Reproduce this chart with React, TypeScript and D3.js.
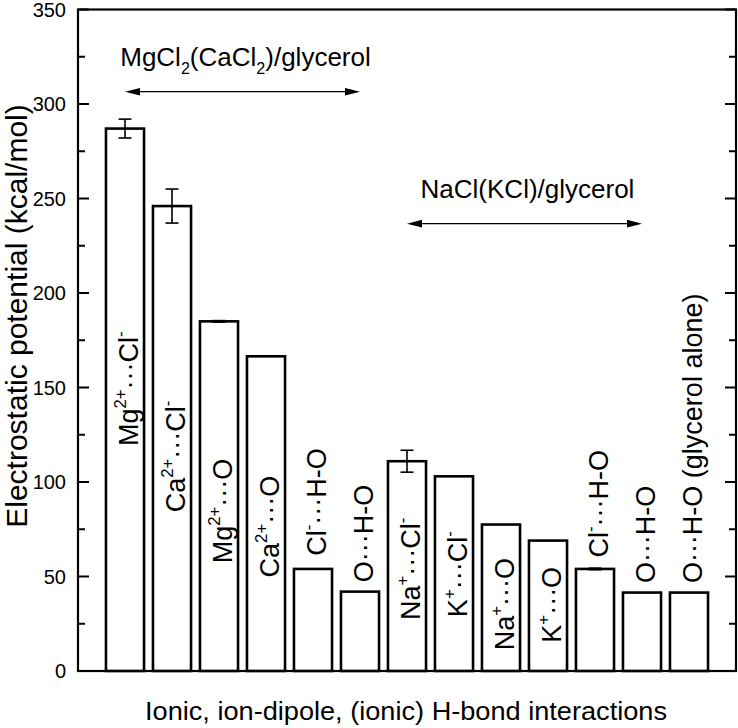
import { useEffect, useRef } from "react";
import * as d3 from "d3";

// bar labels, "^{..}" = superscript
const categories = [
  "Mg^{2+}···Cl^{-}",
  "Ca^{2+}···Cl^{-}",
  "Mg^{2+}···O",
  "Ca^{2+}···O",
  "Cl^{-}···H-O",
  "O···H-O",
  "Na^{+}···Cl^{-}",
  "K^{+}···Cl^{-}",
  "Na^{+}···O",
  "K^{+}···O",
  "Cl^{-}···H-O",
  "O···H-O",
  "O···H-O (glycerol alone)",
];
const potentials = [287, 246, 185, 166.5, 54, 42, 111, 103, 77.5, 69, 54, 41.5, 41.5];
const errors = [5, 9, 0.4, 0, 0, 0, 5.8, 0, 0, 0, 0.4, 0, 0];
// where each rotated label starts (value units)
const labelBase = [119, 84, 57, 49.5, 61, 47, 27, 28.5, 11, 15, 60, 46.5, 46.5];

const yTicks = [0, 50, 100, 150, 200, 250, 300, 350];
const yMinor = [25, 75, 125, 175, 225, 275, 325];

const groupNames = ["MgCl_{2}(CaCl_{2})/glycerol", "NaCl(KCl)/glycerol"];
const groupSpans = [[1, 6], [7, 12]];
const groupLevels = [306.5, 236.7];

const FONT = "'Liberation Sans', Arial, Helvetica, sans-serif";

// append tspans for a string with ^{} / _{} markup
const addRich = (text: any, str: string, fs: number) => {
  const re = /\^\{([^}]*)\}|_\{([^}]*)\}|([^^_]+)/g;
  let shift = 0;
  let m: RegExpExecArray | null;
  while ((m = re.exec(str)) !== null) {
    let target = 0;
    let size = fs;
    let s = m[3];
    if (m[1] !== undefined) { target = -0.42 * fs; size = 0.62 * fs; s = m[1]; }
    if (m[2] !== undefined) { target = 0.3 * fs; size = 0.62 * fs; s = m[2]; }
    text.append("tspan")
      .attr("dy", target - shift)
      .attr("font-size", size)
      .text(s);
    shift = target;
  }
};

const Chart = () => {
  const ref = useRef<SVGSVGElement>(null);

  useEffect(() => {
    const width = 738;
    const height = 728;

    const x = d3.scaleLinear().domain([0, 14]).range([78, 736]);
    const y = d3.scaleLinear().domain([0, 350]).range([671, 9.5]);
    const barW = x(0.81) - x(0);

    const svg = d3.select(ref.current)
      .attr("width", width)
      .attr("height", height)
      .attr("viewBox", [0, 0, width, height] as any)
      .style("font-family", FONT);

    svg.selectAll("*").remove();

    svg.append("rect").attr("width", width).attr("height", height).attr("fill", "white");

    // bars
    svg.append("g")
      .selectAll("rect")
      .data(potentials)
      .join("rect")
      .attr("x", (d, i) => x(i + 1) - barW / 2)
      .attr("y", (d) => y(d))
      .attr("width", barW)
      .attr("height", (d) => y(0) - y(d))
      .attr("fill", "white")
      .attr("stroke", "black")
      .attr("stroke-width", 2.6);

    // error bars
    const eb = svg.append("g").attr("stroke", "black").attr("stroke-width", 1.6);
    potentials.forEach((v, i) => {
      const e = errors[i];
      if (!e) return;
      const cx = x(i + 1);
      eb.append("line").attr("x1", cx).attr("x2", cx).attr("y1", y(v + e)).attr("y2", y(v - e));
      eb.append("line").attr("x1", cx - 6.5).attr("x2", cx + 6.5).attr("y1", y(v + e)).attr("y2", y(v + e));
      eb.append("line").attr("x1", cx - 6.5).attr("x2", cx + 6.5).attr("y1", y(v - e)).attr("y2", y(v - e));
    });

    // frame
    svg.append("rect")
      .attr("x", x(0))
      .attr("y", y(350))
      .attr("width", x(14) - x(0))
      .attr("height", y(0) - y(350))
      .attr("fill", "none")
      .attr("stroke", "black")
      .attr("stroke-width", 2.2);

    // ticks, pointing inward on both sides
    const tk = svg.append("g").attr("stroke", "black").attr("stroke-width", 2);
    yTicks.forEach((t) => {
      tk.append("line").attr("x1", x(0)).attr("x2", x(0) + 11).attr("y1", y(t)).attr("y2", y(t));
      tk.append("line").attr("x1", x(14)).attr("x2", x(14) - 11).attr("y1", y(t)).attr("y2", y(t));
    });
    yMinor.forEach((t) => {
      tk.append("line").attr("x1", x(0)).attr("x2", x(0) + 7).attr("y1", y(t)).attr("y2", y(t));
      tk.append("line").attr("x1", x(14)).attr("x2", x(14) - 7).attr("y1", y(t)).attr("y2", y(t));
    });

    svg.append("g")
      .selectAll("text")
      .data(yTicks)
      .join("text")
      .attr("x", 66)
      .attr("y", (d) => y(d))
      .attr("dy", "0.36em")
      .attr("text-anchor", "end")
      .attr("font-size", 20)
      .text((d) => d);

    // axis titles
    svg.append("text")
      .attr("transform", "translate(27,316) rotate(-90)")
      .attr("text-anchor", "middle")
      .attr("font-size", 30)
      .text("Electrostatic potential (kcal/mol)");

    svg.append("text")
      .attr("x", 406)
      .attr("y", 720)
      .attr("text-anchor", "middle")
      .attr("font-size", 26)
      .attr("textLength", 522)
      .attr("lengthAdjust", "spacingAndGlyphs")
      .text("Ionic, ion-dipole, (ionic) H-bond interactions");

    // rotated bar labels
    categories.forEach((c, i) => {
      const t = svg.append("text")
        .attr("transform", `translate(${x(i + 1) + 12.5},${y(labelBase[i])}) rotate(-90)`)
        .attr("font-size", 27);
      addRich(t, c, 27);
    });

    // group annotations with double arrows
    groupNames.forEach((g, k) => {
      const [a, b] = groupSpans[k];
      const x1 = x(a);
      const x2 = x(b);
      const yy = y(groupLevels[k]);
      svg.append("line")
        .attr("x1", x1 + 4).attr("x2", x2 - 4)
        .attr("y1", yy).attr("y2", yy)
        .attr("stroke", "black").attr("stroke-width", 1.3);
      svg.append("path")
        .attr("d", `M${x1},${yy}L${x1 + 15},${yy - 3.8}L${x1 + 15},${yy + 3.8}Z`)
        .attr("fill", "black");
      svg.append("path")
        .attr("d", `M${x2},${yy}L${x2 - 15},${yy - 3.8}L${x2 - 15},${yy + 3.8}Z`)
        .attr("fill", "black");
      const t = svg.append("text")
        .attr("x", (x1 + x2) / 2 + 3)
        .attr("y", yy - 26)
        .attr("text-anchor", "middle")
        .attr("font-size", 26);
      addRich(t, g, 26);
    });
  }, []);

  return <svg ref={ref} style={{ position: "absolute", left: 0, top: 0 }}></svg>;
};

export default function App() {
  return <Chart />;
}
